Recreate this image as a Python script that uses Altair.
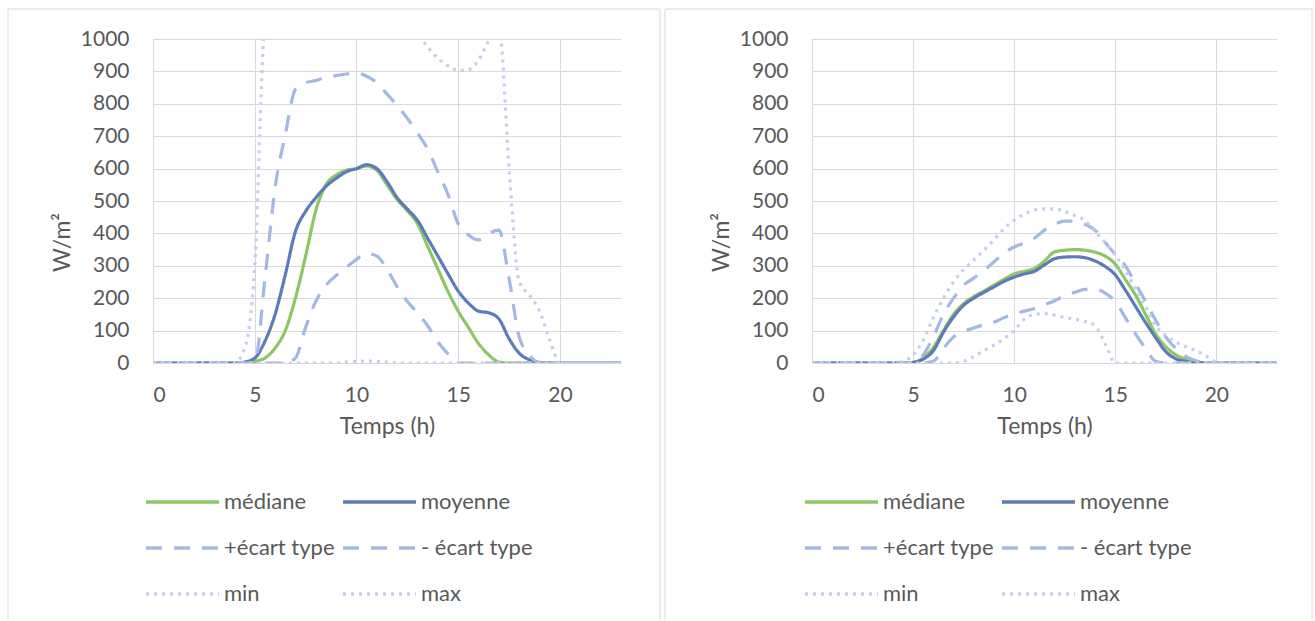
import altair as alt
import pandas as pd

HOURS = [i * 0.5 for i in range(47)]
SERIES = ["médiane", "moyenne", "+écart type", "- écart type", "min", "max"]
COLORS = {"médiane": "#8cc665", "moyenne": "#5b7cb8", "+écart type": "#a3b8e2",
          "- écart type": "#a3b8e2", "min": "#c2cfee", "max": "#c2cfee"}
DASHES = {"médiane": [1, 0], "moyenne": [1, 0], "+écart type": [16, 12],
          "- écart type": [16, 12], "min": [3, 5], "max": [3, 5]}
# legend fills column by column: order so that rows read médiane|moyenne, +|-, min|max
LEGEND_ORDER = ["médiane", "+écart type", "min", "moyenne", "- écart type", "max"]
X_TICKS = [0, 5, 10, 15, 20]
Y_TICKS = list(range(0, 1001, 100))

# ---- left panel ----
L_MED = [0] * 10 + [5, 15, 46, 100, 200, 330, 470, 550, 580, 595, 600, 608, 595, 550, 505, 470,
                    430, 360, 290, 220, 160, 110, 60, 25, 3] + [0] * 12
L_MEAN = [0] * 9 + [3] + [15, 67, 150, 272, 406, 468, 510, 545, 570, 590, 600, 612, 600, 560, 510,
                          475, 440, 385, 330, 275, 222, 185, 160, 155, 136, 75, 30, 10, 2] + [0] * 8
L_PSTD = [0] * 11 + [260, 540, 705, 845, 865, 872, 882, 887, 892, 895, 885, 865, 830, 795, 755,
                     710, 660, 590, 520, 430, 395, 380, 400, 410, 260, 80, 25] + [0] * 9
L_MSTD = [0] * 14 + [15, 110, 190, 240, 270, 295, 320, 338, 330, 290, 235, 190, 155, 115, 65,
                     28] + [0] * 17
L_MIN = [0] * 19 + [3, 5, 6, 5, 3] + [0] * 23
L_MAX = [0] * 9 + [45, 300, 1050, 1150, 1200, 1200, 1200, 1200, 1200, 1200, 1200, 1200, 1200,
                   1200, 1180, 1130, 1070, 1020, 975, 940, 917, 903, 905, 935, 995, 1040, 600,
                   250, 210, 160, 70] + [0] * 7

# ---- right panel ----
R_MED = [0] * 10 + [2, 15, 48, 100, 150, 183, 205, 222, 240, 258, 275, 283, 292, 315, 343, 348,
                    350, 348, 342, 330, 305, 258, 210, 150, 90, 50, 25, 12, 5] + [0] * 8
R_MEAN = [0] * 10 + [2, 12, 38, 95, 142, 178, 200, 218, 235, 252, 265, 275, 283, 303, 322, 327,
                     328, 325, 315, 298, 272, 225, 175, 125, 78, 35, 13, 5, 1] + [0] * 8
R_PSTD = [0] * 11 + [25, 80, 150, 200, 240, 262, 285, 312, 340, 358, 370, 385, 410, 428, 438,
                     438, 428, 410, 372, 335, 300, 245, 190, 132, 80, 45, 20, 7] + [0] * 8
R_MSTD = [0] * 12 + [5, 45, 80, 97, 108, 118, 126, 140, 152, 160, 168, 180, 192, 208, 218, 227,
                     228, 216, 190, 140, 90, 45, 5] + [0] * 12
R_MIN = [0] * 15 + [5, 20, 38, 55, 75, 100, 135, 150, 152, 148, 140, 135, 128, 115, 60] + [0] * 17
R_MAX = [0] * 9 + [5, 25, 70, 140, 200, 250, 288, 318, 348, 380, 415, 440, 460, 472, 476, 475,
                   468, 455, 440, 405, 372, 333, 285, 230, 175, 115, 85, 65, 50, 38, 22, 3] + [0] * 6

TEXT = "#595959"
GRID = "#d9d9d9"
FONT = "Lato"


def panel(vals, width, left_off, right_off):
    rows = []
    for name, ys in zip(SERIES, vals):
        for h, v in zip(HOURS, ys):
            rows.append({"h": h, "v": v, "serie": name})
    df = pd.DataFrame(rows)
    legend = alt.Legend(
        title=None, orient="none", legendX=-9, legendY=452, columns=2,
        symbolType="stroke", symbolSize=5329, symbolStrokeWidth=3.3,
        labelFont=FONT, labelFontSize=22, labelColor=TEXT, labelOffset=3,
        columnPadding=6, rowPadding=24, padding=0, clipHeight=22,
    )
    lines = alt.Chart(df).mark_line(clip=True, strokeWidth=3.2, interpolate="monotone").encode(
        x=alt.X("h:Q", scale=alt.Scale(domain=[0, 23], nice=False, zero=False),
                axis=alt.Axis(values=X_TICKS, title="Temps (h)", labelPadding=21, titlePadding=10)),
        y=alt.Y("v:Q", scale=alt.Scale(domain=[0, 1000], nice=False),
                axis=alt.Axis(values=Y_TICKS, format="d", title="W/m²", labelPadding=24,
                              titlePadding=6, titleY=203)),
        color=alt.Color("serie:N",
                        scale=alt.Scale(domain=LEGEND_ORDER,
                                        range=[COLORS[s] for s in LEGEND_ORDER]),
                        legend=legend),
        strokeDash=alt.StrokeDash("serie:N",
                                  scale=alt.Scale(domain=LEGEND_ORDER,
                                                  range=[DASHES[s] for s in LEGEND_ORDER]),
                                  legend=legend),
    )
    one = pd.DataFrame({"k": [0]})
    frame_l = alt.Chart(one).mark_rule(color=GRID, strokeWidth=1).encode(
        x=alt.value(left_off), y=alt.value(-30), y2=alt.value(581))
    frame_r = alt.Chart(one).mark_rule(color=GRID, strokeWidth=1).encode(
        x=alt.value(width + right_off), y=alt.value(-30), y2=alt.value(581))
    frame_t = alt.Chart(one).mark_rule(color=GRID, strokeWidth=1).encode(
        x=alt.value(left_off), x2=alt.value(width + right_off), y=alt.value(-30))
    return alt.layer(frame_l, frame_r, frame_t, lines).properties(width=width, height=324)


left = panel([L_MED, L_MEAN, L_PSTD, L_MSTD, L_MIN, L_MAX], 468, -145, 39)
right = panel([R_MED, R_MEAN, R_PSTD, R_MSTD, R_MIN, R_MAX], 465, -147, 35)

chart = alt.hconcat(left, right, spacing=3).resolve_scale(
    color="independent", strokeDash="independent"
).resolve_legend(
    color="independent", strokeDash="independent"
).properties(
    padding={"left": 7, "top": 8, "right": 0, "bottom": 0},
    background="white",
).configure_view(stroke=None).configure_axis(
    labelFont=FONT, labelFontSize=21, labelColor=TEXT,
    titleFont=FONT, titleFontSize=23, titleColor=TEXT, titleFontWeight="normal",
    gridColor=GRID, gridWidth=1, domain=False, ticks=False, tickSize=0,
)

chart.save("out.html", embed_options={"renderer": "svg", "actions": False})
